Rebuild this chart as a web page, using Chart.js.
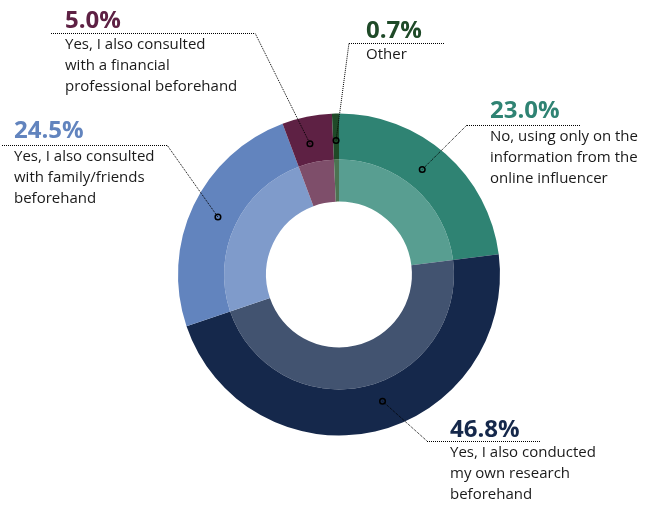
<!DOCTYPE html>
<html>
<head>
<meta charset="utf-8">
<script src="https://cdn.jsdelivr.net/npm/chart.js@4.4.0/dist/chart.umd.min.js"></script>
<style>
  html, body { margin: 0; padding: 0; background: #fff; }
  #wrap { width: 660px; height: 505px; position: relative; }
</style>
</head>
<body>
<div id="wrap"><canvas id="grafico"></canvas></div>
<script>
// data, clockwise from 12 o'clock
var categorias = [
  ['No, using only on the', 'information from the', 'online influencer'],
  ['Yes, I also conducted', 'my own research', 'beforehand'],
  ['Yes, I also consulted', 'with family/friends', 'beforehand'],
  ['Yes, I also consulted', 'with a financial', 'professional beforehand'],
  ['Other']
];
var valores = [23.0, 46.8, 24.5, 5.0, 0.7];
var rotulos = ['23.0%', '46.8%', '24.5%', '5.0%', '0.7%'];

var coresFortes = ['#2f8373', '#15284b', '#6284be', '#5e2144', '#1f4a28'];
var coresClaras = ['#589e91', '#425370', '#7f9bcb', '#7e4e6a', '#4b7352'];

// where each callout sits (text x, percent baseline y, elbow of the leader line)
var chamadas = [
  { x: 490, y: 118, linhaY: 125, x0: 467, x1: 580, cotovelo: 467, desvio: -3 },
  { x: 450, y: 437, linhaY: 441, x0: 427, x1: 541, cotovelo: 427, desvio: -6 },
  { x: 14,  y: 138, linhaY: 145, x0: 2,   x1: 167, cotovelo: 167, desvio: 0 },
  { x: 65,  y: 28,  linhaY: 33,  x0: 51,  x1: 255, cotovelo: 255, desvio: -1 },
  { x: 366, y: 38,  linhaY: 43,  x0: 349, x1: 444, cotovelo: 349, desvio: 0 }
];

var pluginChamadas = {
  id: 'chamadas',
  afterDatasetsDraw: function(chart) {
    var ctx = chart.ctx;
    var arcos = chart.getDatasetMeta(0).data;
    ctx.save();
    arcos.forEach(function(arco, i) {
      var c = chamadas[i];
      var p = arco.getProps(['x', 'y', 'startAngle', 'endAngle', 'innerRadius', 'outerRadius'], true);
      var ang = (p.startAngle + p.endAngle) / 2 + c.desvio * Math.PI / 180;
      var r = (p.innerRadius + p.outerRadius) / 2 - 4;
      var px = p.x + Math.cos(ang) * r;
      var py = p.y + Math.sin(ang) * r;

      // dotted leader
      ctx.strokeStyle = '#000';
      ctx.lineWidth = 1;
      ctx.setLineDash([1, 1]);
      ctx.beginPath();
      ctx.moveTo(px, py);
      ctx.lineTo(c.cotovelo, c.linhaY);
      ctx.moveTo(c.x0, c.linhaY + 0.5);
      ctx.lineTo(c.x1, c.linhaY + 0.5);
      ctx.stroke();
      ctx.setLineDash([]);

      // little ring at the anchor
      ctx.lineWidth = 1.5;
      ctx.beginPath();
      ctx.arc(px, py, 2.8, 0, Math.PI * 2);
      ctx.stroke();

      // percent
      ctx.textAlign = 'left';
      ctx.textBaseline = 'alphabetic';
      ctx.fillStyle = coresFortes[i];
      ctx.font = 'bold 24px "Open Sans"';
      ctx.fillText(rotulos[i], c.x, c.y);

      // description
      ctx.fillStyle = '#1a1a1a';
      ctx.font = '15px "Open Sans"';
      ctx.textBaseline = 'middle';
      categorias[i].forEach(function(linha, k) {
        ctx.fillText(linha, c.x, c.linhaY + 12 + k * 20.8);
      });
    });
    ctx.restore();
  }
};

window.onload = function(){
  var contexto = document.getElementById('grafico').getContext('2d');
  var grafico = new Chart(contexto, {
    type: 'doughnut',
    data: {
      labels: categorias.map(function(l){ return l.join(' '); }),
      datasets: [{
        data: valores,
        backgroundColor: coresFortes,
        borderWidth: 0,
        weight: 46
      }, {
        data: valores,
        backgroundColor: coresClaras,
        borderWidth: 0,
        weight: 42
      }]
    },
    options: {
      responsive: true,
      maintainAspectRatio: false,
      animation: false,
      cutout: '45.3%',
      layout: { padding: { left: 178, right: 160, top: 113.5, bottom: 69.5 } },
      plugins: {
        legend: { display: false },
        tooltip: { enabled: false }
      }
    },
    plugins: [pluginChamadas]
  });
};
</script>
</body>
</html>
